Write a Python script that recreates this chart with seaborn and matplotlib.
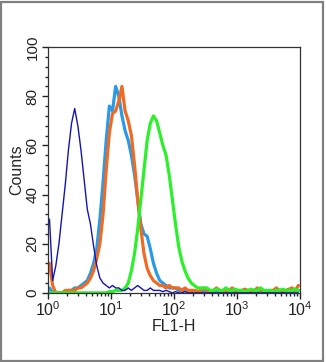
import numpy as np
import pandas as pd
import matplotlib
matplotlib.use("Agg")
import matplotlib.pyplot as plt
import seaborn as sns
from matplotlib.ticker import MultipleLocator, LogLocator, NullFormatter
from matplotlib.patches import Rectangle

# bin centres, 20 per decade (log10 0.025 ... 3.975)
log_centres = np.arange(80) * 0.05 + 0.025
fl1 = 10 ** log_centres

# counts, one value per bin
isotype = [30, 5, 11, 20, 32, 44, 58, 69, 75, 68,
           58, 46, 34, 28, 19, 11, 6, 4, 3, 2,
           3, 2, 2, 1, 1, 2, 1, 2, 3, 2,
           1, 1, 2, 1, 1, 1, 0.5, 1, 0.5, 0,
           0.5, 0, 0, 0.5, 0, 0, 0, 0, 0, 0,
           0, 0, 0, 0, 0, 0, 0, 0, 0, 0,
           0, 0, 0, 0, 0, 0, 0, 0, 0, 0,
           0, 0, 0, 0, 0, 0, 0, 0, 0, 0]
control = [2, 0, 0, 0, 0, 0, 1, 1, 2, 2,
           3, 4, 5, 8, 12, 18, 30, 45, 62, 76,
           74, 84, 80, 72, 66, 62, 56, 48, 38, 28,
           24, 23, 18, 12, 8, 5, 4, 3, 2, 2,
           2, 1, 1, 1, 1, 0.5, 1, 0.5, 0.5, 1,
           0.5, 0, 0.5, 1, 0.5, 0, 0.5, 0.5, 1, 0.5,
           0, 0.5, 1, 0.5, 0.5, 0, 0.5, 1, 0.5, 0.5,
           0, 0.5, 0.5, 1, 0.5, 0.5, 1, 0.5, 1, 1]
treated = [12, 3, 0, 0, 0, 1, 1, 1, 1, 2,
           2, 3, 4, 6, 9, 14, 20, 32, 50, 65,
           73, 74, 78, 84, 74, 70, 64, 52, 38, 26,
           16, 10, 7, 5, 4, 3, 3, 2, 3, 2,
           2, 2, 1, 2, 1, 1, 1, 0.5, 1, 2,
           1, 0.5, 1, 2, 1, 0.5, 1, 1, 2, 1,
           0.5, 1, 1.5, 1, 0.5, 1, 2, 1, 1, 0.5,
           1, 1, 2, 1, 0.5, 1, 1.5, 2, 1, 3]
stained = [0, 0, 0, 0, 0, 0, 0, 0, 0, 0,
           0, 0, 0, 0, 0, 0, 0, 0, 0, 0.5,
           0.5, 1, 1, 1, 2, 4, 9, 16, 26, 38,
           50, 62, 69, 72, 70, 65, 60, 56, 48, 38,
           28, 19, 13, 9, 6, 4, 3, 2, 2, 2,
           2, 1, 1, 1.5, 1, 1, 2, 1, 1, 1.5,
           1, 1, 0.5, 1, 1.5, 1, 1, 2, 1, 1,
           1, 0.5, 1, 1, 1.5, 1, 1, 1, 1.5, 1]

df = pd.DataFrame({"FL1-H": fl1, "isotype": isotype, "control": control,
                   "treated": treated, "stained": stained})

sns.set_style("ticks")
plt.rcParams["font.family"] = ["Liberation Sans", "DejaVu Sans"]

fig = plt.figure(figsize=(3.26, 3.62), dpi=100)
ax = fig.add_axes([0.147, 0.191, 0.773, 0.679])

series = [("control", "#2a9ae6", 2.3),
          ("treated", "#f06a22", 2.3),
          ("stained", "#2cf02c", 2.3),
          ("isotype", "#1515b0", 1.0)]
for col, color, lw in series:
    sns.lineplot(data=df, x="FL1-H", y=col, ax=ax, color=color, linewidth=lw)

ax.set_xscale("log")
ax.set_xlim(1, 10 ** 4)
ax.set_ylim(0, 100)
ax.yaxis.set_major_locator(MultipleLocator(20))
ax.yaxis.set_minor_locator(MultipleLocator(4))
ax.xaxis.set_major_locator(LogLocator(base=10, numticks=10))
ax.xaxis.set_minor_locator(LogLocator(base=10, subs=np.arange(2, 10), numticks=20))
ax.xaxis.set_minor_formatter(NullFormatter())

for lab in ax.get_yticklabels():
    lab.set_rotation(90)
    lab.set_va("center")
ax.tick_params(axis="both", which="major", direction="out", length=4, width=1,
               labelsize=11, colors="#222222", pad=2)
ax.tick_params(axis="both", which="minor", direction="out", length=2.5, width=1)
ax.tick_params(axis="x", labelsize=11.5, pad=1)

for s in ax.spines.values():
    s.set_linewidth(0.9)
    s.set_color("#333333")

ax.set_xlabel("FL1-H", fontsize=11.5, labelpad=0)
ax.set_ylabel("Counts", fontsize=11.5, labelpad=1)

fig.patches.append(Rectangle((0.004, 0.004), 0.988, 0.99, transform=fig.transFigure,
                             fill=False, edgecolor="#808080", linewidth=1.6))

fig.savefig("out.png", dpi=100)
